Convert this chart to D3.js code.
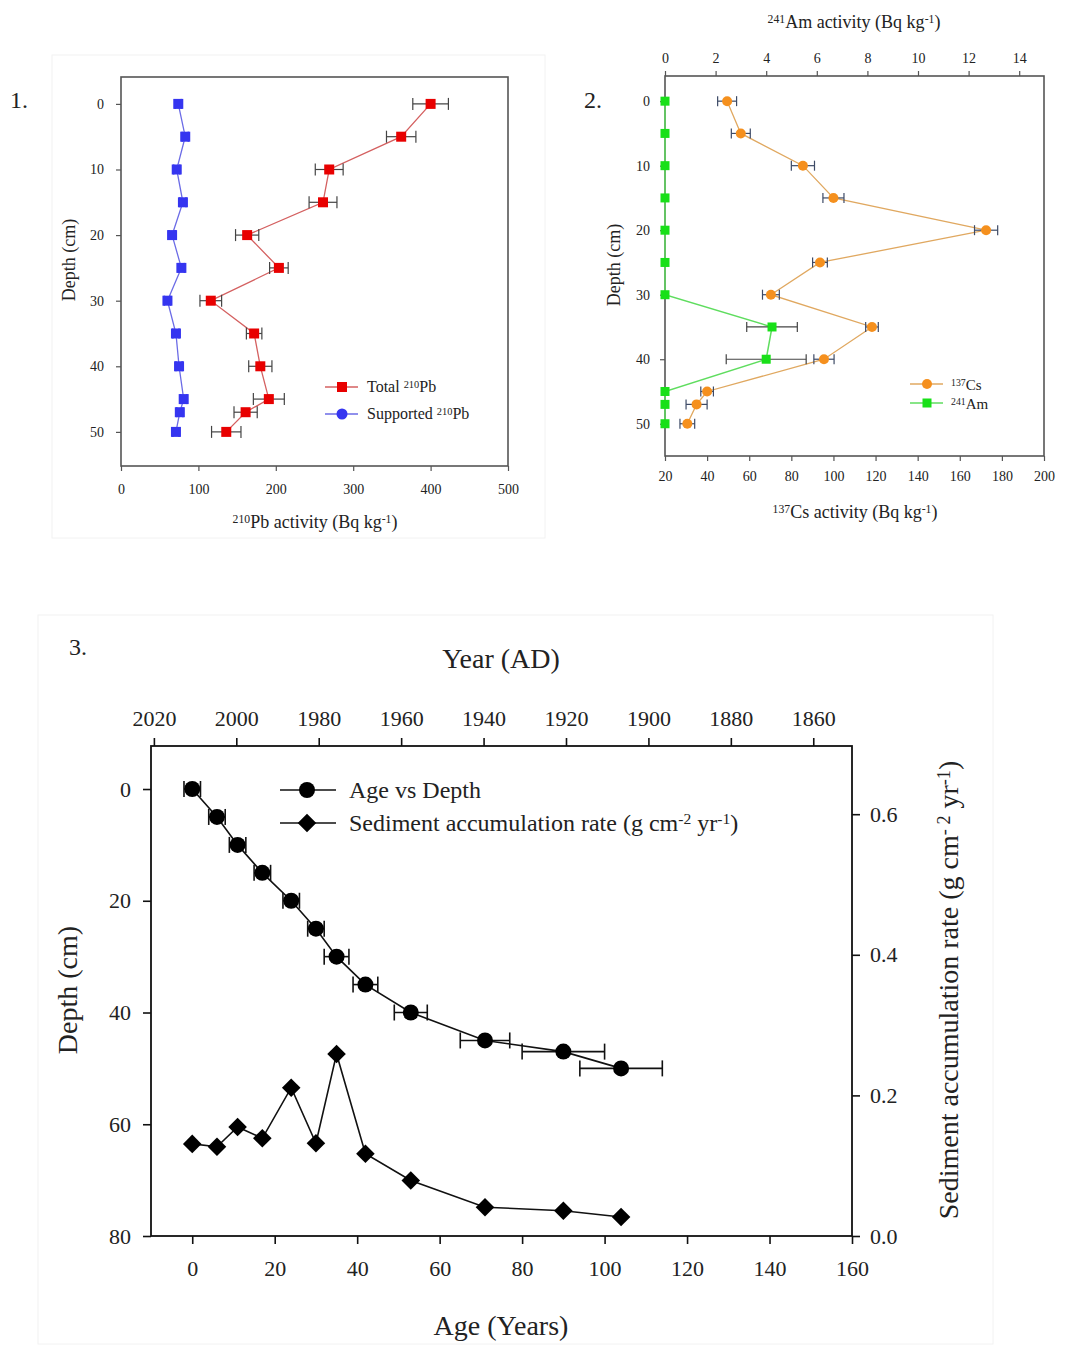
<!DOCTYPE html>
<html>
<head>
<meta charset="utf-8">
<script src="https://cdn.jsdelivr.net/npm/d3@7"></script>
<style>
  body { margin: 0; background: #fff; }
  svg text { font-family: "Liberation Serif", "Times New Roman", serif; fill: #222; }
</style>
</head>
<body>
<svg id="fig" width="1066" height="1345"></svg>
<script>
// Data
const depths       = [0, 5, 10, 15, 20, 25, 30, 35, 40, 45, 47, 50];
const pbTotal      = [400, 362, 269, 261, 163, 204, 116, 172, 180, 191, 161, 136];
const pbTotalErr   = [23, 19, 18, 18, 15, 12, 14, 10, 15, 20, 15, 19];
const pbSupported  = [74, 83, 72, 80, 66, 78, 60, 71, 75, 81, 76, 71];
const pbSuppErr    = [4, 4, 4, 4, 4, 4, 4, 4, 4, 4, 4, 4];
const cs137        = [49.5, 56, 85.5, 100, 172.5, 93.6, 70.3, 118.3, 95.5, 40, 35, 30.6];
const cs137Err     = [4.5, 4.5, 5.5, 5, 5.5, 3.5, 4, 3, 4.8, 3, 5, 3.5];
const am241        = [0, 0, 0, 0, 0, 0, 0, 4.23, 4.0, 0, 0, 0];
const am241Err     = [0, 0, 0, 0, 0, 0, 0, 1.0, 1.58, 0, 0, 0];
const ages         = [0, 6, 11, 17, 24, 30, 35, 42, 53, 71, 90, 104];
const ageErr       = [2, 2, 2, 2, 2, 2, 3, 3, 4, 6, 10, 10];
const sedRate      = [0.131, 0.127, 0.155, 0.139, 0.211, 0.132, 0.259, 0.117, 0.079, 0.041, 0.036, 0.027];

const depthTicks1  = [0, 10, 20, 30, 40, 50];
const pbTicks      = [0, 100, 200, 300, 400, 500];
const csTicks      = [20, 40, 60, 80, 100, 120, 140, 160, 180, 200];
const amTicks      = [0, 2, 4, 6, 8, 10, 12, 14];
const ageTicks     = [0, 20, 40, 60, 80, 100, 120, 140, 160];
const yearTicks    = [2020, 2000, 1980, 1960, 1940, 1920, 1900, 1880, 1860];
const depthTicks3  = [0, 20, 40, 60, 80];
const rateTicks    = [0.0, 0.2, 0.4, 0.6];

const svg = d3.select('#fig');

// text with superscripts: parts = [[text, isSup], ...]
function richText(g, parts, x, y, size, opts = {}) {
  const t = g.append('text')
    .attr('x', x).attr('y', y)
    .attr('font-size', size)
    .attr('text-anchor', opts.anchor || 'middle');
  if (opts.rotate) t.attr('transform', `rotate(-90,${x},${y})`);
  parts.forEach(([s, sup]) => {
    const ts = t.append('tspan').text(s);
    if (sup) ts.attr('font-size', size * 0.65).attr('baseline-shift', '45%');
  });
  return t;
}

function styleAxis(sel, color, width, fontSize) {
  sel.select('.domain').remove();
  sel.selectAll('.tick line').attr('stroke', color).attr('stroke-width', width);
  sel.selectAll('.tick text').attr('font-size', fontSize)
    .attr('font-family', '"Liberation Serif", serif').attr('fill', '#222');
}

function frame(g, x0, x1, y0, y1, color, width) {
  g.append('rect').attr('x', x0).attr('y', y0)
    .attr('width', x1 - x0).attr('height', y1 - y0)
    .attr('fill', 'none').attr('stroke', color).attr('stroke-width', width);
}

function errorBars(g, xs, ys, errs, x, y, cap, color, width) {
  const eb = g.append('g').attr('stroke', color).attr('stroke-width', width).attr('fill', 'none');
  xs.forEach((v, i) => {
    if (!errs[i]) return;
    const yy = y(ys[i]), xa = x(v - errs[i]), xb = x(v + errs[i]);
    eb.append('line').attr('x1', xa).attr('x2', xb).attr('y1', yy).attr('y2', yy);
    eb.append('line').attr('x1', xa).attr('x2', xa).attr('y1', yy - cap).attr('y2', yy + cap);
    eb.append('line').attr('x1', xb).attr('x2', xb).attr('y1', yy - cap).attr('y2', yy + cap);
  });
}

// faint panel backgrounds
svg.append('rect').attr('x', 52).attr('y', 55).attr('width', 493).attr('height', 483)
  .attr('fill', 'none').attr('stroke', '#f2f2f2');
svg.append('rect').attr('x', 38).attr('y', 615).attr('width', 955).attr('height', 729)
  .attr('fill', 'none').attr('stroke', '#f2f2f2');

// ---------------- Panel 1 ----------------
const p1 = svg.append('g');
const x1 = d3.scaleLinear().domain([0, 500]).range([121, 508]);
const y1 = d3.scaleLinear().domain([-4.1, 55.2]).range([77, 466]);

p1.append('g').attr('transform', 'translate(0,466)')
  .call(d3.axisBottom(x1).tickValues(pbTicks).tickSize(5).tickPadding(13))
  .call(s => styleAxis(s, '#555', 1.2, 14));
p1.append('g').attr('transform', 'translate(121,0)')
  .call(d3.axisLeft(y1).tickValues(depthTicks1).tickSize(5).tickPadding(12))
  .call(s => styleAxis(s, '#555', 1.2, 14));
frame(p1, 121, 508, 77, 466, '#555', 1.6);

const line1 = d3.line().x(d => x1(d[0])).y(d => y1(d[1]));
p1.append('path').datum(pbTotal.map((v, i) => [v, depths[i]]))
  .attr('d', line1).attr('fill', 'none').attr('stroke', '#d46060').attr('stroke-width', 1.3);
p1.append('path').datum(pbSupported.map((v, i) => [v, depths[i]]))
  .attr('d', line1).attr('fill', 'none').attr('stroke', '#6b6be6').attr('stroke-width', 1.3);
errorBars(p1, pbTotal, depths, pbTotalErr, x1, y1, 6, '#444', 1.2);
errorBars(p1, pbSupported, depths, pbSuppErr, x1, y1, 5, '#3a3af0', 1.6);
p1.selectAll('rect.tot').data(pbTotal).join('rect')
  .attr('x', (d, i) => x1(d) - 5).attr('y', (d, i) => y1(depths[i]) - 5)
  .attr('width', 10).attr('height', 10).attr('fill', '#e80000');
p1.selectAll('rect.sup').data(pbSupported).join('rect')
  .attr('x', (d, i) => x1(d) - 5).attr('y', (d, i) => y1(depths[i]) - 5)
  .attr('width', 10).attr('height', 10).attr('fill', '#3535f0');

// legend 1
const lg1 = p1.append('g');
[[387, '#d46060', '#e80000', 'rect', 'Total '], [414, '#6b6be6', '#3535f0', 'circle', 'Supported ']]
  .forEach(([yy, lc, mc, shape, label]) => {
    lg1.append('line').attr('x1', 325).attr('x2', 358).attr('y1', yy).attr('y2', yy)
      .attr('stroke', lc).attr('stroke-width', 1.3);
    if (shape === 'rect') lg1.append('rect').attr('x', 337).attr('y', yy - 5).attr('width', 10).attr('height', 10).attr('fill', mc);
    else lg1.append('circle').attr('cx', 342).attr('cy', yy).attr('r', 5.5).attr('fill', mc);
    richText(lg1, [[label, false], ['210', true], ['Pb', false]], 367, yy + 5, 16, { anchor: 'start' });
  });

richText(p1, [['210', true], ['Pb activity (Bq kg', false], ['-1', true], [')', false]], 315, 528, 18);
richText(p1, [['Depth (cm)', false]], 75, 260, 18, { rotate: true });
p1.append('text').attr('x', 10).attr('y', 108).attr('font-size', 24).text('1.');

// ---------------- Panel 2 ----------------
const p2 = svg.append('g');
const xCs = d3.scaleLinear().domain([20, 200]).range([665, 1044]);
const xAm = d3.scaleLinear().domain([0, 15]).range([665, 1044.5]);
const y2 = d3.scaleLinear().domain([-3.9, 55]).range([76, 456]);

p2.append('g').attr('transform', 'translate(0,456)')
  .call(d3.axisBottom(xCs).tickValues(csTicks).tickSize(5).tickPadding(10))
  .call(s => styleAxis(s, '#555', 1.2, 14));
p2.append('g').attr('transform', 'translate(0,76)')
  .call(d3.axisTop(xAm).tickValues(amTicks).tickSize(5).tickPadding(8))
  .call(s => styleAxis(s, '#555', 1.2, 14));
p2.append('g').attr('transform', 'translate(665,0)')
  .call(d3.axisLeft(y2).tickValues(depthTicks1).tickSize(5).tickPadding(10))
  .call(s => styleAxis(s, '#555', 1.2, 14));
frame(p2, 665, 1044, 76, 456, '#555', 1.6);

const lineCs = d3.line().x(d => xCs(d[0])).y(d => y2(d[1]));
const lineAm = d3.line().x(d => xAm(d[0])).y(d => y2(d[1]));
p2.append('path').datum(cs137.map((v, i) => [v, depths[i]]))
  .attr('d', lineCs).attr('fill', 'none').attr('stroke', '#e0a860').attr('stroke-width', 1.3);
p2.append('path').datum(am241.map((v, i) => [v, depths[i]]))
  .attr('d', lineAm).attr('fill', 'none').attr('stroke', '#5fdd5f').attr('stroke-width', 1.5);
errorBars(p2, cs137, depths, cs137Err, xCs, y2, 5, '#3d4a66', 1.2);
errorBars(p2, am241, depths, am241Err, xAm, y2, 5, '#444', 1.2);
p2.selectAll('circle.cs').data(cs137).join('circle')
  .attr('cx', d => xCs(d)).attr('cy', (d, i) => y2(depths[i])).attr('r', 5).attr('fill', '#f5901e');
p2.selectAll('rect.am').data(am241).join('rect')
  .attr('x', d => xAm(d) - 4.5).attr('y', (d, i) => y2(depths[i]) - 4.5)
  .attr('width', 9).attr('height', 9).attr('fill', '#18e018');

const lg2 = p2.append('g');
lg2.append('line').attr('x1', 910).attr('x2', 943).attr('y1', 384).attr('y2', 384).attr('stroke', '#e0a860').attr('stroke-width', 1.3);
lg2.append('circle').attr('cx', 927).attr('cy', 384).attr('r', 5).attr('fill', '#f5901e');
richText(lg2, [['137', true], ['Cs', false]], 951, 390, 15, { anchor: 'start' });
lg2.append('line').attr('x1', 910).attr('x2', 943).attr('y1', 403).attr('y2', 403).attr('stroke', '#5fdd5f').attr('stroke-width', 1.5);
lg2.append('rect').attr('x', 922.5).attr('y', 398.5).attr('width', 9).attr('height', 9).attr('fill', '#18e018');
richText(lg2, [['241', true], ['Am', false]], 951, 409, 15, { anchor: 'start' });

richText(p2, [['241', true], ['Am activity (Bq kg', false], ['-1', true], [')', false]], 854, 28, 18);
richText(p2, [['137', true], ['Cs activity (Bq kg', false], ['-1', true], [')', false]], 855, 518, 18);
richText(p2, [['Depth (cm)', false]], 620, 265, 18, { rotate: true });
p2.append('text').attr('x', 584).attr('y', 108).attr('font-size', 24).text('2.');

// ---------------- Panel 3 ----------------
const p3 = svg.append('g');
const xAge = d3.scaleLinear().domain([-10, 160]).range([151, 852]);
const xYear = d3.scaleLinear().domain([2020.7, 1850.6]).range([151, 852]);
const yDep = d3.scaleLinear().domain([-7.7, 80]).range([746, 1236]);
const yRate = d3.scaleLinear().domain([0, 0.697]).range([1236, 746]);

p3.append('g').attr('transform', 'translate(0,1236)')
  .call(d3.axisBottom(xAge).tickValues(ageTicks).tickSize(8).tickPadding(16))
  .call(s => styleAxis(s, '#111', 1.6, 22));
p3.append('g').attr('transform', 'translate(0,746)')
  .call(d3.axisTop(xYear).tickValues(yearTicks).tickSize(8).tickPadding(12).tickFormat(d3.format('d')))
  .call(s => styleAxis(s, '#111', 1.6, 22));
p3.append('g').attr('transform', 'translate(151,0)')
  .call(d3.axisLeft(yDep).tickValues(depthTicks3).tickSize(8).tickPadding(12))
  .call(s => styleAxis(s, '#111', 1.6, 22));
p3.append('g').attr('transform', 'translate(852,0)')
  .call(d3.axisRight(yRate).tickValues(rateTicks).tickSize(8).tickPadding(10).tickFormat(d3.format('.1f')))
  .call(s => styleAxis(s, '#111', 1.6, 22));
frame(p3, 151, 852, 746, 1236, '#111', 1.8);

p3.append('path').datum(ages.map((a, i) => [a, depths[i]]))
  .attr('d', d3.line().x(d => xAge(d[0])).y(d => yDep(d[1])))
  .attr('fill', 'none').attr('stroke', '#111').attr('stroke-width', 1.6);
p3.append('path').datum(ages.map((a, i) => [a, sedRate[i]]))
  .attr('d', d3.line().x(d => xAge(d[0])).y(d => yRate(d[1])))
  .attr('fill', 'none').attr('stroke', '#111').attr('stroke-width', 1.6);
errorBars(p3, ages, depths, ageErr, xAge, yDep, 8, '#111', 1.6);
p3.selectAll('circle.age').data(ages).join('circle')
  .attr('cx', d => xAge(d)).attr('cy', (d, i) => yDep(depths[i])).attr('r', 8).attr('fill', '#000');
const diamond = d3.symbol().type(d3.symbolDiamond2).size(220);
p3.selectAll('path.sar').data(ages).join('path')
  .attr('d', diamond)
  .attr('transform', (d, i) => `translate(${xAge(d)},${yRate(sedRate[i])})`)
  .attr('fill', '#000');

const lg3 = p3.append('g');
lg3.append('line').attr('x1', 280).attr('x2', 336).attr('y1', 790).attr('y2', 790).attr('stroke', '#111').attr('stroke-width', 1.6);
lg3.append('circle').attr('cx', 307).attr('cy', 790).attr('r', 8).attr('fill', '#000');
richText(lg3, [['Age vs Depth', false]], 349, 798, 24, { anchor: 'start' });
lg3.append('line').attr('x1', 280).attr('x2', 336).attr('y1', 823).attr('y2', 823).attr('stroke', '#111').attr('stroke-width', 1.6);
lg3.append('path').attr('d', diamond).attr('transform', 'translate(307,823)').attr('fill', '#000');
richText(lg3, [['Sediment accumulation rate (g cm', false], ['-2', true], [' yr', false], ['-1', true], [')', false]], 349, 831, 24, { anchor: 'start' });

richText(p3, [['Year (AD)', false]], 501, 668, 28);
richText(p3, [['Age (Years)', false]], 501, 1335, 28);
richText(p3, [['Depth (cm)', false]], 77, 990, 28, { rotate: true });
richText(p3, [['Sediment accumulation rate (g cm', false], ['- 2', true], [' yr', false], ['-1', true], [')', false]], 958, 990, 28, { rotate: true });
p3.append('text').attr('x', 69).attr('y', 655).attr('font-size', 24).text('3.');
</script>
</body>
</html>
